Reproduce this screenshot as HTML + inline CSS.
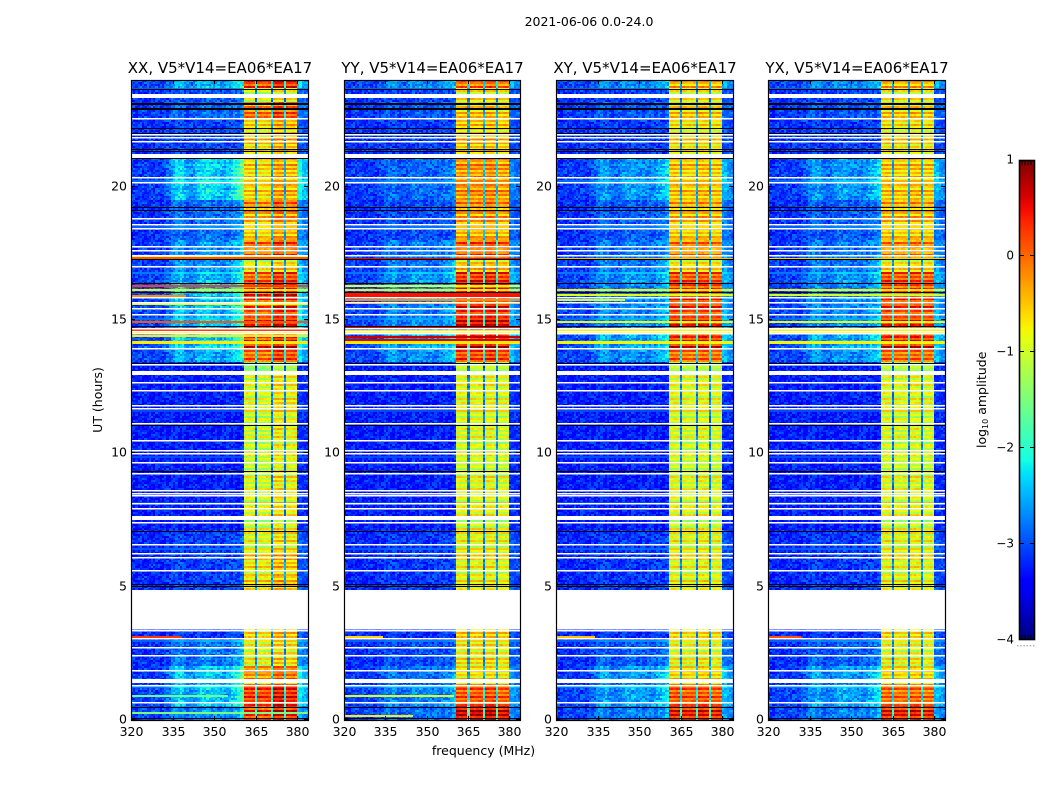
<!DOCTYPE html>
<html lang="en">
<head>
<meta charset="utf-8">
<title>2021-06-06 0.0-24.0</title>
<style>
html,body{margin:0;padding:0;background:#fff;width:1050px;height:800px;overflow:hidden}
#figure{position:relative;width:1050px;height:800px}
canvas{position:absolute;image-rendering:pixelated}
svg{position:absolute;left:0;top:0}
text{font-family:"DejaVu Sans","Liberation Sans",sans-serif;fill:#000}
</style>
</head>
<body>
<div id="figure">
<svg id="overlay" width="1050" height="800" viewBox="0 0 1050 800"></svg>
</div>
<script>
const panelTitles = ["XX, V5*V14=EA06*EA17","YY, V5*V14=EA06*EA17","XY, V5*V14=EA06*EA17","YX, V5*V14=EA06*EA17"];
const panelSlugs = ["xx","yy","xy","yx"];
const figureTitle = "2021-06-06 0.0-24.0";
const xTicks = [320,335,350,365,380];
const yTicks = [0,5,10,15,20];
const colorTicks = [1,0,-1,-2,-3,-4];
const colorLabels = ["1","0","\u22121","\u22122","\u22123","\u22124"];

// time segments in hours; levels below have one value per segment, null = no data
const segmentEdges = [0,.55,1.3,1.5,2.05,3,3.47,4.9,6.3,7.1,12,13.1,13.4,13.95,14.6,16.4,16.8,17.3,18,18.95,19.5,21.1,22,22.6,23.15,23.7,24];
const bandLevelsXX = [.2,.25,-.45,-.1,-.85,-.75,null,-.65,-.85,-.95,-.95,-1.5,0,.35,.2,.05,-.85,0,-.5,-.15,-.6,-.6,-.6,-.1,-1,.2];
const bandLevelsYY = [.55,.05,-.6,-.6,-.8,-.7,null,-.85,-.85,-.95,-.95,-1.2,.15,.6,.4,.25,-.6,.05,-.4,-.2,-.3,-.55,-.55,-.6,-.8,-.1];
const bandLevelsXY = [.3,0,-.6,-.55,-.95,-.85,null,-.9,-.9,-1,-1,-1.3,-.1,.35,.2,.05,-.8,-.2,-.55,-.4,-.6,-.75,-.75,-.65,-.9,-.5];
const bandLevelsYX = [.3,-.1,-.6,-.55,-.95,-.85,null,-.9,-.9,-1,-1,-1.3,-.1,.35,.15,.05,-.8,-.25,-.55,-.4,-.6,-.75,-.75,-.65,-.9,-.5];
const bumpLevelsXX = [.4,.7,.7,.85,.4,.1,null,.15,.15,0,0,0,.6,.8,.7,.6,.5,.5,.35,.35,.85,.1,.1,.25,.2,.6];
const bumpLevelsYY = [.25,.35,.25,.35,.15,.05,null,.1,.1,0,0,0,.45,.55,.35,.45,.35,.35,.15,.15,.25,.05,.05,.15,.1,.4];
const bumpLevelsXY = [.35,.5,.4,.6,.25,.05,null,.1,.1,0,0,0,.45,.55,.4,.45,.35,.35,.25,.25,.5,.05,.05,.15,.1,.4];
const bumpLevelsYX = [.35,.5,.4,.6,.25,.05,null,.1,.1,0,0,0,.45,.55,.4,.45,.35,.35,.25,.25,.5,.05,.05,.15,.1,.4];
const floorLevels = [-3.05,-3.05,-3.1,-3.1,-3.15,-3.2,null,-3.2,-3.2,-3.25,-3.25,-3.25,-3.05,-3,-3.05,-3.05,-3.1,-3.1,-3.15,-3.15,-3.1,-3.15,-3.15,-3.1,-3.15,-3.05];

// sub-band offsets, one per sub-band
const subBandStart = [360.8,365.6,371.2,376];
const subBandEnd = [364.8,370.4,375.2,380];
const subOffsetsXX = [-.05,-.1,.2,.1];
const subOffsetsYY = [0,0,.05,-.05];
const subOffsetsXY = [.05,0,.05,0];
const subOffsetsYX = [.05,0,.05,0];

// relative broadband emission, every 2 MHz from 320 to 360 and then 380 to 384
const lowProfile = [0,0,0,0,0,0,.05,.35,.85,1,.7,.45,.8,1,1,.9,.75,.65,.85,1.3,1.7];
const edgeProfile = [1.1,.7];

// flagged rows (hours)
const whiteRows = [23.44,22.56,21.99,21.86,21.73,21.17,20.37,20.17,18.82,18.61,18.45,17.78,17.63,17.42,17.04,15.87,15.68,15.45,15.23,14.7,14.59,14.51,13.95,13.35,13.05,12.67,12.37,11.81,11.7,11.13,10.5,10.12,10.01,9.67,9.26,8.62,8.51,8.43,8.13,7.94,7.6,7.42,6.59,6.25,6.1,5.61,3.44,3.36,3.06,2.73,2.42,1.86,1.5,1.3,.69];
const thickWhiteRows = [23.44,21.17,13.05,7.6,1.5];
const blackRows = [23.65,23.15,23.1,22.96,22.9,22.21,22.02,21.43,21.35,21.08,19.23,19.14,17.28,16.39,16.05,14.78,13.39,11.06,9.33,7.08,5.09,5.01,.47,.07];

// narrow interference rows: hour, log amplitude, upper frequency
const rfiRowsXX = [[17.4,-.7,384],[17.36,.1,384],[16.3,.2,384],[16.15,-.7,384],[15.95,-.2,340],[15.63,-.8,384],[14.98,.1,384],[14.66,.2,384],[14.56,-.75,384],[14.42,-.7,384],[14.22,-.7,384],[14.16,-.7,384],[3.16,.25,338],[.95,-1.6,355],[.3,-1.5,384]];
const rfiRowsYY = [[17.33,.5,384],[16.3,-.8,384],[16.15,-.7,384],[16,.45,384],[15.93,.45,384],[15.8,-.2,384],[15.68,-.2,384],[14.75,.5,384],[14.64,-.75,384],[14.56,-.75,384],[14.4,.7,384],[14.3,.6,384],[14.22,-.7,384],[14.16,-.7,384],[3.16,-.6,334],[.95,-.9,360],[.2,-.7,345]];
const rfiRowsXY = [[17.33,-.5,384],[16.15,-.7,384],[15.98,-.9,384],[15.8,-.9,345],[14.98,-.8,384],[14.66,-.75,384],[14.56,-.75,384],[14.22,-.75,384],[14.16,-.75,384],[3.16,-.5,334]];
const rfiRowsYX = [[17.33,-.6,384],[16.15,-.7,384],[15.98,-1,384],[14.98,-.8,384],[14.66,-.75,384],[14.56,-.75,384],[14.22,-.75,384],[14.16,-.75,384],[3.16,.1,332]];

const speckle = [.28,-.31,.12,-.08,.41,-.22,.05,-.38,.19,.33,-.15,-.27,.09,.36,-.42,.02,.24,-.11,-.33,.15,.47,-.19,-.04];
const rowRipple = [.12,-.18,.22,-.06,.3,-.2,.04,.18,-.26,.08,-.12,.26,-.14];

const bandLevels = [bandLevelsXX,bandLevelsYY,bandLevelsXY,bandLevelsYX];
const bumpLevels = [bumpLevelsXX,bumpLevelsYY,bumpLevelsXY,bumpLevelsYX];
const subOffsets = [subOffsetsXX,subOffsetsYY,subOffsetsXY,subOffsetsYX];
const rfiRows = [rfiRowsXX,rfiRowsYY,rfiRowsXY,rfiRowsYX];

const panelLeft = [131,344,556,768];
const panelWidth = [177,176,177,177];
const plotTop = 80, plotBottom = 720;
const freqMin = 320, freqMax = 383.9, hourMax = 24;
const channelWidth = 0.8, rowStep = 0.075;
const colorMin = -4, colorMax = 1, barLeft = 1019, barWidth = 16, barTop = 160, barBottom = 640;
const NS = "http://www.w3.org/2000/svg";
const overlay = document.getElementById("overlay");
const figure = document.getElementById("figure");

function xScale(f,w){ return (f-freqMin)/(freqMax-freqMin)*w; }
function yScale(h){ return (plotBottom-plotTop)*(1-h/hourMax); }
function cScale(v){ return barBottom-(v-colorMin)/(colorMax-colorMin)*(barBottom-barTop); }
function piece(t,pts){
  for(let i=1;i<pts.length;i++){
    if(t<=pts[i][0]){
      const a=pts[i-1],b=pts[i];
      return a[1]+(b[1]-a[1])*(t-a[0])/(b[0]-a[0]);
    }
  }
  return pts[pts.length-1][1];
}
function jet(v){
  const t=Math.max(0,Math.min(1,(v-colorMin)/(colorMax-colorMin)));
  const r=piece(t,[[0,0],[.35,0],[.66,1],[.89,1],[1,.5]]);
  const g=piece(t,[[0,0],[.125,0],[.375,1],[.64,1],[.91,0],[1,0]]);
  const b=piece(t,[[0,.5],[.11,1],[.34,1],[.65,0],[1,0]]);
  return "rgb("+Math.round(r*255)+","+Math.round(g*255)+","+Math.round(b*255)+")";
}
function segmentOf(h){
  for(let i=0;i<segmentEdges.length-1;i++){ if(h<segmentEdges[i+1]) return i; }
  return segmentEdges.length-2;
}
function subBandOf(f){
  for(let i=0;i<subBandStart.length;i++){ if(f>=subBandStart[i]&&f<subBandEnd[i]) return i; }
  return -1;
}
function lowAt(f){
  const u=(f-freqMin)/2, i=Math.min(lowProfile.length-1,Math.floor(u));
  const j=Math.min(lowProfile.length-1,i+1);
  return lowProfile[i]+(lowProfile[j]-lowProfile[i])*(u-i);
}
function cellValue(p,f,s,r,c){
  const band=bandLevels[p][s], bump=bumpLevels[p][s], floor=floorLevels[s];
  const noise=speckle[(r*r*3+c*7+r*c)%speckle.length];
  const ripple=rowRipple[r%rowRipple.length];
  if(f>=subBandStart[0]&&f<subBandEnd[3]){
    const sb=subBandOf(f);
    if(sb<0) return band*.6-2.2+noise*.5;
    return band+subOffsets[p][sb]+ripple*1.5+noise*.3;
  }
  if(f>=subBandEnd[3]){
    const e=edgeProfile[Math.min(edgeProfile.length-1,Math.floor((f-380)/2))];
    return floor+.1+bump*e+noise*.55;
  }
  return floor+bump*lowAt(f)+noise*.7+ripple*bump*.7*(f>343?1:.3);
}
function drawHeatmap(p){
  const w=panelWidth[p];
  const cv=document.createElement("canvas");
  
  
  cv.width=w; cv.height=plotBottom-plotTop;
  cv.style.left=panelLeft[p]+"px"; cv.style.top=plotTop+"px";
  figure.insertBefore(cv,overlay);
  const g=cv.getContext("2d");
  g.fillStyle="#fff"; g.fillRect(0,0,cv.width,cv.height);
  const rows=Math.round(hourMax/rowStep);
  for(let r=0;r<rows;r++){
    const h0=r*rowStep, h1=h0+rowStep, s=segmentOf(h0+rowStep/2);
    if(bandLevels[p][s]===null) continue;
    const yT=Math.round(yScale(h1)), yB=Math.round(yScale(h0));
    const nCh=Math.ceil((freqMax-freqMin)/channelWidth);
    for(let c=0;c<nCh;c++){
      const f0=freqMin+c*channelWidth, f1=f0+channelWidth, f=f0+channelWidth/2;
      const xL=Math.round(xScale(f0,w)), xR=Math.round(xScale(Math.min(f1,freqMax),w));
      g.fillStyle=jet(cellValue(p,f,s,r,c));
      g.fillRect(xL,yT,xR-xL,yB-yT);
    }
  }
  rfiRows[p].forEach(function(row){
    const y=Math.round(yScale(row[0]));
    const xEnd=Math.round(xScale(Math.min(row[2],freqMax),w));
    g.fillStyle=jet(row[1]);
    g.fillRect(0,y,xEnd,2);
  });
  g.fillStyle="#fff";
  whiteRows.forEach(function(h){
    const thick=thickWhiteRows.indexOf(h)>=0;
    g.fillRect(0,Math.round(yScale(h))-(thick?1:0),w,thick?4:1.5);
  });
  g.fillStyle="#000";
  blackRows.forEach(function(h){
    g.fillRect(0,Math.round(yScale(h)),w,1);
  });
}
function svgEl(tag,attrs){
  const el=document.createElementNS(NS,tag);
  for(const k in attrs){ el.setAttribute(k,attrs[k]); }
  return el;
}
function addLine(x1,y1,x2,y2,name,w){
  const el=svgEl("line",{x1:x1,y1:y1,x2:x2,y2:y2,stroke:"#000","stroke-width":w||1});
  
  
  overlay.appendChild(el);
}
function addText(x,y,str,size,anchor,name,rot){
  const el=svgEl("text",{x:x,y:y,"font-size":size,"text-anchor":anchor});
  if(rot){ el.setAttribute("transform","rotate(-90 "+x+" "+y+")"); }
  el.textContent=str;
  
  
  overlay.appendChild(el);
  return el;
}
function drawAxes(p){
  const L=panelLeft[p], w=panelWidth[p], R=L+w, slug=panelSlugs[p];
  const frame=svgEl("rect",{x:L+.5,y:plotTop+.5,width:w,height:plotBottom-plotTop,fill:"none",stroke:"#000","stroke-width":1.2});
  
  
  overlay.appendChild(frame);
  addText(L+w/2+.5,73,panelTitles[p],15,"middle","panel-title-"+slug);
  xTicks.forEach(function(f){
    const x=Math.round(L+xScale(f,w))+.5;
    addLine(x,plotBottom,x,plotBottom-4,"x-tick-"+f+"-"+slug);
    addLine(x,plotTop,x,plotTop+4,"x-tick-top-"+f+"-"+slug);
    addText(x,736,String(f),12.5,"middle","x-tick-label-"+f+"-"+slug);
  });
  yTicks.forEach(function(h){
    const y=Math.round(plotTop+yScale(h))-.5;
    addLine(L,y,L+4,y,"y-tick-"+h+"-"+slug);
    addLine(R,y,R-4,y,"y-tick-right-"+h+"-"+slug);
    addText(L-4,y+4,String(h),12.5,"end","y-tick-label-"+h+"-"+slug);
  });
}
function drawColorbar(){
  const defs=svgEl("defs",{});
  const grad=svgEl("linearGradient",{id:"jetGradient",x1:0,y1:1,x2:0,y2:0});
  for(let i=0;i<=40;i++){
    const t=i/40;
    grad.appendChild(svgEl("stop",{offset:t,"stop-color":jet(colorMin+t*(colorMax-colorMin))}));
  }
  defs.appendChild(grad);
  overlay.appendChild(defs);
  const bar=svgEl("rect",{x:barLeft+.5,y:barTop+.5,width:barWidth-1,height:barBottom-barTop-1,fill:"url(#jetGradient)",stroke:"#000","stroke-width":1.6});
  
  
  overlay.appendChild(bar);
  colorTicks.forEach(function(v,i){
    const y=Math.round(cScale(v))-.5;
    if(i>0&&i<colorTicks.length-1){
      addLine(barLeft,y,barLeft+5,y,"colorbar-tick-"+i);
      addLine(barLeft+barWidth,y,barLeft+barWidth-5,y,"colorbar-tick-right-"+i);
    }
    addText(barLeft-5,Math.round(cScale(v))+3.5,colorLabels[i],12,"end","colorbar-tick-label-"+i);
  });
  for(let x=barLeft+3;x<barLeft+barWidth-1;x+=3){
    addLine(x,barTop,x,barTop+5,"colorbar-minor-tick-top");
    addLine(x,barBottom,x,barBottom-5,"colorbar-minor-tick-bottom");
  }
  for(let x=barLeft-2;x<barLeft+barWidth+1;x+=3.2){
    const dot=svgEl("rect",{x:x,y:645,width:1.4,height:1.4,fill:"#aaa"});
    
    
    overlay.appendChild(dot);
  }
  const label=addText(986,448,"log",12.5,"start","colorbar-label",true);
  const sub=svgEl("tspan",{"font-size":8,dy:2});
  sub.textContent="10";
  label.appendChild(sub);
  const rest=svgEl("tspan",{dy:-2});
  rest.textContent=" amplitude";
  label.appendChild(rest);
}
panelTitles.forEach(function(t,p){ drawHeatmap(p); drawAxes(p); });
drawColorbar();
addText(589,26,figureTitle,12.5,"middle","figure-title");
addText(483.5,755,"frequency (MHz)",12.5,"middle","x-axis-title");
addText(102,400,"UT (hours)",12.5,"middle","y-axis-title",true);
</script>
</body>
</html>
